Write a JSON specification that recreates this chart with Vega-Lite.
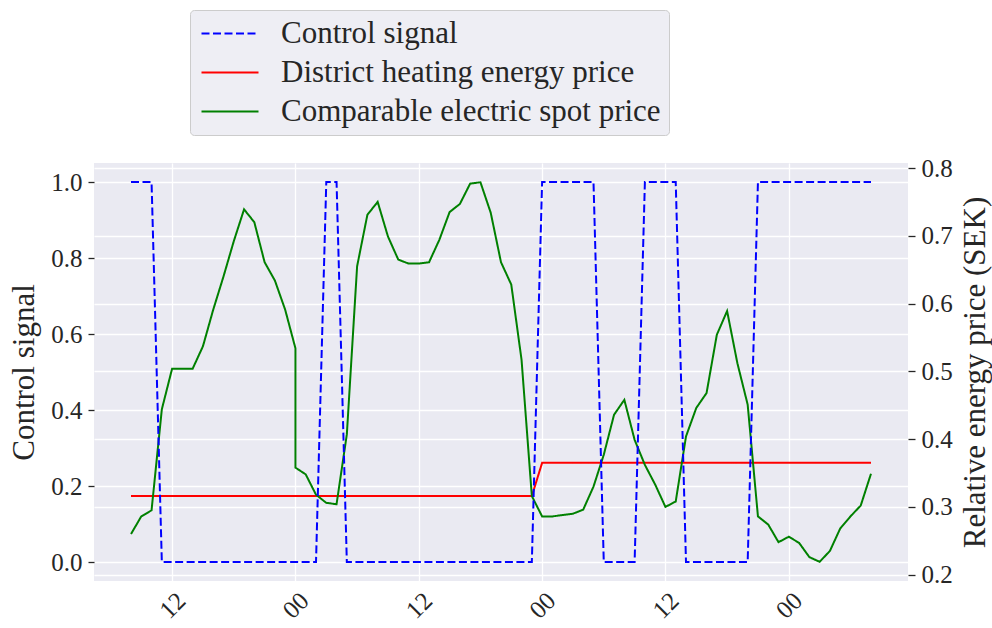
{
  "$schema": "https://vega.github.io/schema/vega-lite/v6.json",
  "width": 814,
  "height": 418,
  "autosize": "none",
  "padding": {"left": 94, "top": 163, "right": 84, "bottom": 47},
  "background": "#ffffff",
  "data": {"values": [
    {"t": "2020-01-01T08:00Z", "control": 1, "dh": 0.316, "spot": 0.260},
    {"t": "2020-01-01T09:00Z", "control": 1, "dh": 0.316, "spot": 0.286},
    {"t": "2020-01-01T10:00Z", "control": 1, "dh": 0.316, "spot": 0.295},
    {"t": "2020-01-01T11:00Z", "control": 0, "dh": 0.316, "spot": 0.444},
    {"t": "2020-01-01T12:00Z", "control": 0, "dh": 0.316, "spot": 0.504},
    {"t": "2020-01-01T13:00Z", "control": 0, "dh": 0.316, "spot": 0.504},
    {"t": "2020-01-01T14:00Z", "control": 0, "dh": 0.316, "spot": 0.504},
    {"t": "2020-01-01T15:00Z", "control": 0, "dh": 0.316, "spot": 0.537},
    {"t": "2020-01-01T16:00Z", "control": 0, "dh": 0.316, "spot": 0.591},
    {"t": "2020-01-01T17:00Z", "control": 0, "dh": 0.316, "spot": 0.640},
    {"t": "2020-01-01T18:00Z", "control": 0, "dh": 0.316, "spot": 0.692},
    {"t": "2020-01-01T19:00Z", "control": 0, "dh": 0.316, "spot": 0.739},
    {"t": "2020-01-01T20:00Z", "control": 0, "dh": 0.316, "spot": 0.720},
    {"t": "2020-01-01T21:00Z", "control": 0, "dh": 0.316, "spot": 0.661},
    {"t": "2020-01-01T22:00Z", "control": 0, "dh": 0.316, "spot": 0.634},
    {"t": "2020-01-01T23:00Z", "control": 0, "dh": 0.316, "spot": 0.591},
    {"t": "2020-01-02T00:00Z", "control": 0, "dh": 0.316, "spot": 0.534},
    {"t": "2020-01-02T00:00Z", "control": 0, "dh": 0.316, "spot": 0.358},
    {"t": "2020-01-02T01:00Z", "control": 0, "dh": 0.316, "spot": 0.348},
    {"t": "2020-01-02T02:00Z", "control": 0, "dh": 0.316, "spot": 0.318},
    {"t": "2020-01-02T03:00Z", "control": 1, "dh": 0.316, "spot": 0.306},
    {"t": "2020-01-02T04:00Z", "control": 1, "dh": 0.316, "spot": 0.304},
    {"t": "2020-01-02T05:00Z", "control": 0, "dh": 0.316, "spot": 0.407},
    {"t": "2020-01-02T06:00Z", "control": 0, "dh": 0.316, "spot": 0.655},
    {"t": "2020-01-02T07:00Z", "control": 0, "dh": 0.316, "spot": 0.731},
    {"t": "2020-01-02T08:00Z", "control": 0, "dh": 0.316, "spot": 0.750},
    {"t": "2020-01-02T09:00Z", "control": 0, "dh": 0.316, "spot": 0.699},
    {"t": "2020-01-02T10:00Z", "control": 0, "dh": 0.316, "spot": 0.665},
    {"t": "2020-01-02T11:00Z", "control": 0, "dh": 0.316, "spot": 0.659},
    {"t": "2020-01-02T12:00Z", "control": 0, "dh": 0.316, "spot": 0.659},
    {"t": "2020-01-02T13:00Z", "control": 0, "dh": 0.316, "spot": 0.661},
    {"t": "2020-01-02T14:00Z", "control": 0, "dh": 0.316, "spot": 0.694},
    {"t": "2020-01-02T15:00Z", "control": 0, "dh": 0.316, "spot": 0.735},
    {"t": "2020-01-02T16:00Z", "control": 0, "dh": 0.316, "spot": 0.747},
    {"t": "2020-01-02T17:00Z", "control": 0, "dh": 0.316, "spot": 0.777},
    {"t": "2020-01-02T18:00Z", "control": 0, "dh": 0.316, "spot": 0.779},
    {"t": "2020-01-02T19:00Z", "control": 0, "dh": 0.316, "spot": 0.734},
    {"t": "2020-01-02T20:00Z", "control": 0, "dh": 0.316, "spot": 0.661},
    {"t": "2020-01-02T21:00Z", "control": 0, "dh": 0.316, "spot": 0.628},
    {"t": "2020-01-02T22:00Z", "control": 0, "dh": 0.316, "spot": 0.517},
    {"t": "2020-01-02T23:00Z", "control": 0, "dh": 0.316, "spot": 0.316},
    {"t": "2020-01-03T00:00Z", "control": 1, "dh": 0.365, "spot": 0.286},
    {"t": "2020-01-03T01:00Z", "control": 1, "dh": 0.365, "spot": 0.286},
    {"t": "2020-01-03T02:00Z", "control": 1, "dh": 0.365, "spot": 0.288},
    {"t": "2020-01-03T03:00Z", "control": 1, "dh": 0.365, "spot": 0.290},
    {"t": "2020-01-03T04:00Z", "control": 1, "dh": 0.365, "spot": 0.296},
    {"t": "2020-01-03T05:00Z", "control": 1, "dh": 0.365, "spot": 0.330},
    {"t": "2020-01-03T06:00Z", "control": 0, "dh": 0.365, "spot": 0.377},
    {"t": "2020-01-03T07:00Z", "control": 0, "dh": 0.365, "spot": 0.436},
    {"t": "2020-01-03T08:00Z", "control": 0, "dh": 0.365, "spot": 0.458},
    {"t": "2020-01-03T09:00Z", "control": 0, "dh": 0.365, "spot": 0.399},
    {"t": "2020-01-03T10:00Z", "control": 1, "dh": 0.365, "spot": 0.362},
    {"t": "2020-01-03T11:00Z", "control": 1, "dh": 0.365, "spot": 0.333},
    {"t": "2020-01-03T12:00Z", "control": 1, "dh": 0.365, "spot": 0.300},
    {"t": "2020-01-03T13:00Z", "control": 1, "dh": 0.365, "spot": 0.308},
    {"t": "2020-01-03T14:00Z", "control": 0, "dh": 0.365, "spot": 0.404},
    {"t": "2020-01-03T15:00Z", "control": 0, "dh": 0.365, "spot": 0.446},
    {"t": "2020-01-03T16:00Z", "control": 0, "dh": 0.365, "spot": 0.468},
    {"t": "2020-01-03T17:00Z", "control": 0, "dh": 0.365, "spot": 0.554},
    {"t": "2020-01-03T18:00Z", "control": 0, "dh": 0.365, "spot": 0.589},
    {"t": "2020-01-03T19:00Z", "control": 0, "dh": 0.365, "spot": 0.512},
    {"t": "2020-01-03T20:00Z", "control": 0, "dh": 0.365, "spot": 0.451},
    {"t": "2020-01-03T21:00Z", "control": 1, "dh": 0.365, "spot": 0.286},
    {"t": "2020-01-03T22:00Z", "control": 1, "dh": 0.365, "spot": 0.274},
    {"t": "2020-01-03T23:00Z", "control": 1, "dh": 0.365, "spot": 0.248},
    {"t": "2020-01-04T00:00Z", "control": 1, "dh": 0.365, "spot": 0.256},
    {"t": "2020-01-04T01:00Z", "control": 1, "dh": 0.365, "spot": 0.247},
    {"t": "2020-01-04T02:00Z", "control": 1, "dh": 0.365, "spot": 0.226},
    {"t": "2020-01-04T03:00Z", "control": 1, "dh": 0.365, "spot": 0.219},
    {"t": "2020-01-04T04:00Z", "control": 1, "dh": 0.365, "spot": 0.235},
    {"t": "2020-01-04T05:00Z", "control": 1, "dh": 0.365, "spot": 0.268},
    {"t": "2020-01-04T06:00Z", "control": 1, "dh": 0.365, "spot": 0.286},
    {"t": "2020-01-04T07:00Z", "control": 1, "dh": 0.365, "spot": 0.302},
    {"t": "2020-01-04T08:00Z", "control": 1, "dh": 0.365, "spot": 0.349}
  ]},
  "encoding": {
    "x": {
      "field": "t",
      "type": "temporal",
      "scale": {"type": "utc", "domain": [
        {"year": 2020, "month": 1, "date": 1, "hours": 4, "minutes": 24, "utc": true},
        {"year": 2020, "month": 1, "date": 4, "hours": 11, "minutes": 36, "utc": true}
      ]},
      "axis": {
        "title": null,
        "values": [
          {"year": 2020, "month": 1, "date": 1, "hours": 12, "utc": true},
          {"year": 2020, "month": 1, "date": 2, "hours": 0, "utc": true},
          {"year": 2020, "month": 1, "date": 2, "hours": 12, "utc": true},
          {"year": 2020, "month": 1, "date": 3, "hours": 0, "utc": true},
          {"year": 2020, "month": 1, "date": 3, "hours": 12, "utc": true},
          {"year": 2020, "month": 1, "date": 4, "hours": 0, "utc": true}
        ],
        "labelExpr": "utcFormat(datum.value, '%H')",
        "labelAngle": -45,
        "labelAlign": "center",
        "labelBaseline": "middle",
        "labelPadding": 24,
        "ticks": false,
        "tickSize": 0,
        "grid": true
      }
    }
  },
  "layer": [
    {
      "transform": [{"fold": ["dh", "spot"], "as": ["series", "v"]}],
      "mark": {"type": "line", "strokeWidth": 2},
      "encoding": {
        "y": {
          "field": "v", "type": "quantitative",
          "scale": {"domain": [0.1907, 0.8074], "nice": false, "zero": false},
          "axis": {
            "orient": "right", "title": "Relative energy price (SEK)",
            "values": [0.2, 0.3, 0.4, 0.5, 0.6, 0.7, 0.8], "format": ".1f",
            "tickSize": 7, "labelPadding": 6, "titlePadding": 8,
            "titleAngle": -90, "titleBaseline": "top", "grid": true
          }
        },
        "color": {
          "field": "series", "type": "nominal",
          "scale": {"domain": ["control", "dh", "spot"], "range": ["#0000ff", "#ff0000", "#008000"]},
          "legend": {
            "orient": "none", "legendX": 96, "legendY": -153, "title": null,
            "labelExpr": "datum.value == 'control' ? 'Control signal' : datum.value == 'dh' ? 'District heating energy price' : 'Comparable electric spot price'"
          }
        },
        "strokeDash": {
          "field": "series", "type": "nominal",
          "scale": {"domain": ["control", "dh", "spot"], "range": [[8, 3.5], [1, 0], [1, 0]]},
          "legend": {
            "orient": "none", "legendX": 96, "legendY": -153, "title": null,
            "labelExpr": "datum.value == 'control' ? 'Control signal' : datum.value == 'dh' ? 'District heating energy price' : 'Comparable electric spot price'"
          }
        }
      }
    },
    {
      "transform": [{"fold": ["control"], "as": ["series", "v"]}],
      "mark": {"type": "line", "strokeWidth": 2},
      "encoding": {
        "y": {
          "field": "v", "type": "quantitative",
          "scale": {"domain": [-0.05, 1.05], "nice": false, "zero": false},
          "axis": {
            "orient": "left", "title": "Control signal",
            "values": [0, 0.2, 0.4, 0.6, 0.8, 1.0], "format": ".1f",
            "tickSize": 6, "labelPadding": 6, "titlePadding": 10, "grid": true
          }
        },
        "color": {"field": "series", "type": "nominal"},
        "strokeDash": {"field": "series", "type": "nominal"}
      }
    }
  ],
  "resolve": {"scale": {"y": "independent"}},
  "config": {
    "font": "Liberation Serif",
    "view": {"fill": "#EAEAF2", "stroke": null},
    "axis": {
      "domain": false,
      "gridColor": "#ffffff",
      "gridWidth": 1.3,
      "labelFont": "Liberation Serif",
      "labelFontSize": 25,
      "labelColor": "#262626",
      "titleFont": "Liberation Serif",
      "titleFontSize": 31,
      "titleFontWeight": "normal",
      "titleColor": "#262626",
      "tickColor": "#262626",
      "tickWidth": 1.3
    },
    "legend": {
      "padding": 8,
      "cornerRadius": 4,
      "fillColor": "#EEEEF4",
      "strokeColor": "#CCCCCC",
      "symbolType": "M-1.333,0H5",
      "symbolSize": 324,
      "symbolStrokeWidth": 2,
      "labelFont": "Liberation Serif",
      "labelFontSize": 31,
      "labelColor": "#262626",
      "labelOffset": 52,
      "labelLimit": 600,
      "rowPadding": 7
    }
  }
}
